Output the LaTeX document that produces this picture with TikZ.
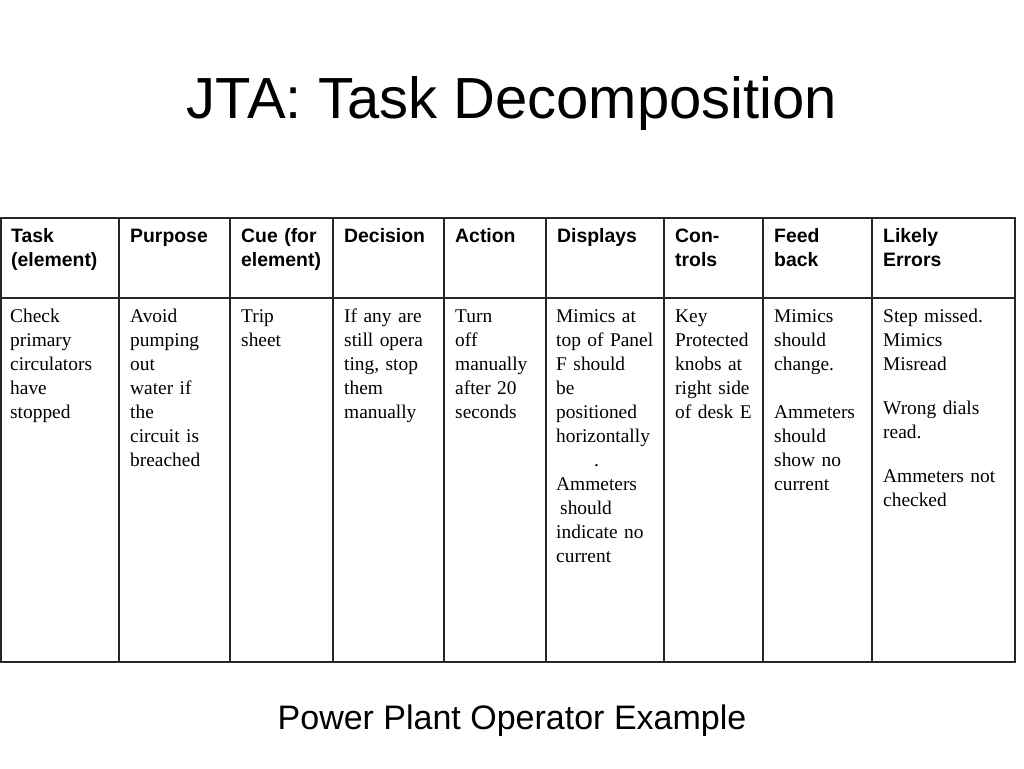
\documentclass[tikz,border=0pt]{standalone}
\usepackage{fontspec}
\setmainfont{Liberation Serif}
\setsansfont{Liberation Sans}
\begin{document}
\begin{tikzpicture}[x=1pt,y=-1pt,
  grid/.style={line width=1.4pt,draw=black!85},
  hd/.style={anchor=base west,inner sep=0pt,align=left,text width=100pt,font=\fontsize{19.4}{24}\selectfont\sffamily\bfseries},
  bd/.style={anchor=base west,inner sep=0pt,align=left,text width=115pt,font=\fontsize{19.4}{24}\selectfont\rmfamily}]
\useasboundingbox (0,0) rectangle (1024,768);
\fill[white] (0,0) rectangle (1024,768);
\node[anchor=base,inner sep=0pt,font=\fontsize{58}{60}\selectfont\sffamily] (title) at (512,118) {JTA: Task Decomposition};
% table grid
\draw[grid] (1,218) rectangle (1015,662);
\draw[grid] (1,298) -- (1015,298);
\foreach \x in {119,230,333,444,546,664,763,872} \draw[grid] (\x,218) -- (\x,662);
% header
\node[hd] (h1) at (11,242) {Task\\(element)};
\node[hd] (h2) at (130,242) {Purpose};
\node[hd] (h3) at (241,242) {Cue (for\\element)};
\node[hd] (h4) at (344,242) {Decision};
\node[hd] (h5) at (455,242) {Action};
\node[hd] (h6) at (557,242) {Displays};
\node[hd] (h7) at (675,242) {Con-\\trols};
\node[hd] (h8) at (774,242) {Feed\\back};
\node[hd] (h9) at (883,242) {Likely\\Errors};
% body
\node[bd] (b1) at (10,322) {Check\\primary\\circulators\\have\\stopped};
\node[bd] (b2) at (130,322) {Avoid\\pumping\\out\\water if\\the\\circuit is\\breached};
\node[bd] (b3) at (241,322) {Trip\\sheet};
\node[bd] (b4) at (344,322) {If any are\\still opera\\ting, stop\\them\\manually};
\node[bd] (b5) at (455,322) {Turn\\off\\manually\\after 20\\seconds};
\node[bd] (b6) at (556,322) {Mimics at\\top of Panel\\F should\\be\\positioned\\horizontally\\\hspace*{38pt}.\\Ammeters\\\hspace*{4pt}should\\indicate no\\current};
\node[bd] (b7) at (675,322) {Key\\Protected\\knobs at\\right side\\of desk E};
\node[bd] (b8) at (774,322) {Mimics\\should\\change.\\[24pt]Ammeters\\should\\show no\\current};
\node[bd] (b9) at (883,322) {Step missed.\\Mimics\\Misread\\[20pt]Wrong dials\\read.\\[20pt]Ammeters not\\checked};
\node[anchor=base,inner sep=0pt,font=\fontsize{34}{36}\selectfont\sffamily] (caption) at (512,729) {Power Plant Operator Example};
\end{tikzpicture}
\end{document}
